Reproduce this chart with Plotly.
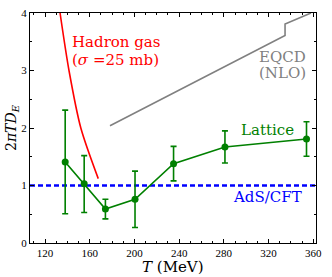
import plotly.graph_objects as go

# Lattice data
lat_T = [138, 155, 174, 200.5, 235, 281, 354]
lat_v = [1.41, 1.03, 0.59, 0.76, 1.38, 1.67, 1.81]
lat_up = [2.31, 1.52, 0.76, 1.25, 1.68, 1.95, 2.11]
lat_lo = [0.51, 0.53, 0.42, 0.27, 1.08, 1.39, 1.51]

# Hadron gas curve
hg_T = [133.4, 141.4, 152.0, 167.6]
hg_v = [4.0, 3.0, 2.0, 1.12]

# EQCD (NLO) curve
eq_T = [178.1, 334.8, 334.8, 358.0]
eq_v = [2.04, 3.61, 3.81, 4.0]

# AdS/CFT
ads_T = [106.5, 362.5]
ads_v = [1.0, 1.0]

xticks = [120, 160, 200, 240, 280, 320, 360]
yticks = [0, 1, 2, 3, 4]

fig = go.Figure()
fig.add_trace(go.Scatter(x=ads_T, y=ads_v, mode="lines",
                         line=dict(color="#0000ff", width=2.5, dash="5px,3px"),
                         showlegend=False))
fig.add_trace(go.Scatter(x=hg_T, y=hg_v, mode="lines",
                         line=dict(color="#ff0000", width=1.6, shape="spline", smoothing=0.8),
                         showlegend=False))
fig.add_trace(go.Scatter(x=eq_T, y=eq_v, mode="lines",
                         line=dict(color="#808080", width=1.6), showlegend=False))
fig.add_trace(go.Scatter(
    x=lat_T, y=lat_v, mode="lines+markers",
    line=dict(color="#008000", width=1.6),
    marker=dict(color="#008000", size=7),
    error_y=dict(type="data", symmetric=False,
                 array=[u - v for u, v in zip(lat_up, lat_v)],
                 arrayminus=[v - l for v, l in zip(lat_v, lat_lo)],
                 color="#008000", thickness=1.6, width=3),
    showlegend=False))

tf = "DejaVu Serif, serif"
ann = [
    dict(x=142.3, y=3.49, text="Hadron gas", color="#ff0000", xanchor="left"),
    dict(x=142.3, y=3.19, text="(<i>σ</i> =25 mb)", color="#ff0000", xanchor="left"),
    dict(x=332.1, y=3.23, text="EQCD", color="#808080", xanchor="center"),
    dict(x=332.1, y=2.96, text="(NLO)", color="#808080", xanchor="center"),
    dict(x=318.7, y=1.97, text="Lattice", color="#008000", xanchor="center"),
    dict(x=318.7, y=0.80, text="AdS/CFT", color="#0000ff", xanchor="center"),
]
for a in ann:
    fig.add_annotation(x=a["x"], y=a["y"], text=a["text"], xanchor=a["xanchor"],
                       yanchor="middle", showarrow=False,
                       font=dict(family=tf, size=15, color=a["color"]))

fig.add_annotation(xref="paper", yref="paper", x=0.5, y=0, yshift=-24,
                   text="<i>T</i> (MeV)", showarrow=False, yanchor="middle",
                   font=dict(family=tf, size=15, color="black"))
fig.add_annotation(xref="paper", yref="paper", x=0, y=0.5, xshift=-18,
                   text="2<i>πTD</i><sub><i>E</i></sub>", showarrow=False,
                   textangle=-90, xanchor="center", yanchor="middle",
                   font=dict(family=tf, size=14, color="black"))

axis_common = dict(showgrid=False, zeroline=False, showline=True, linecolor="black",
                   linewidth=1, mirror="ticks", ticks="inside", ticklen=4,
                   tickcolor="black", tickfont=dict(family="Liberation Serif, serif", size=11, color="black"))
fig.update_xaxes(range=[106.5, 362.5], tickvals=xticks,
                 minor=dict(dtick=10, tick0=0, ticks="inside", ticklen=2, tickcolor="black"),
                 **axis_common)
fig.update_yaxes(range=[0, 4], tickvals=yticks,
                 minor=dict(dtick=0.5, tick0=0, ticks="inside", ticklen=2, tickcolor="black"),
                 **axis_common)
fig.update_layout(width=332, height=277, margin=dict(l=30, r=16, t=7, b=34),
                  plot_bgcolor="white", paper_bgcolor="white")
fig.write_html("out.html", config={"displayModeBar": False},
               post_script="document.body.style.margin='0';document.body.style.overflow='hidden';")
